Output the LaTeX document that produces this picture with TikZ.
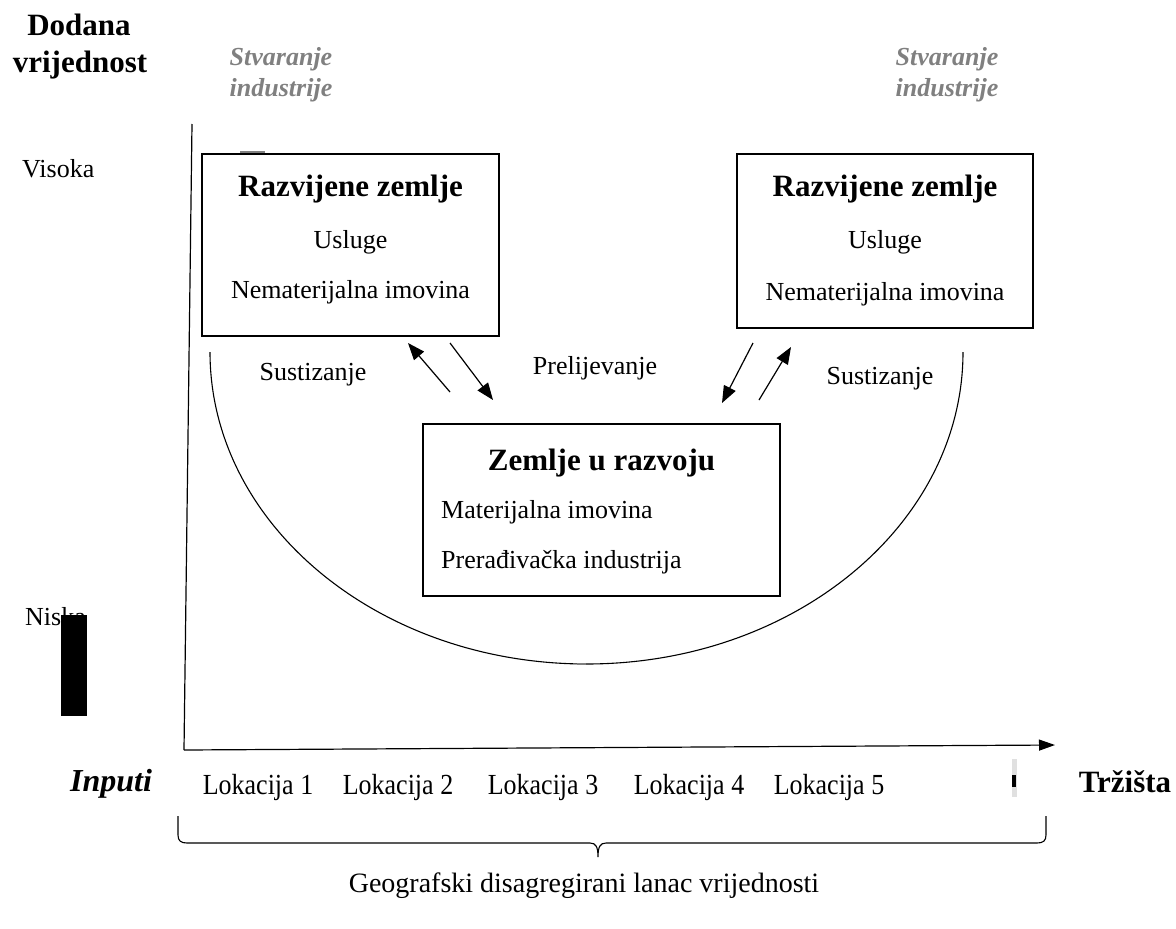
\documentclass[tikz,border=0pt]{standalone}
\usepackage{fontspec}
\setmainfont{Liberation Serif}
\usetikzlibrary{arrows.meta}
\definecolor{stvgray}{RGB}{128,128,128}
\newcommand{\tallloc}[1]{\scalebox{1}[1.12]{#1}}
\tikzset{
  box/.style={draw, line width=1.3pt, inner sep=0pt},
  reg/.style={font=\fontsize{26}{30}\selectfont, inner sep=0pt, anchor=base},
  head/.style={font=\fontsize{31}{35}\selectfont\bfseries, inner sep=0pt, anchor=base},
  stv/.style={font=\fontsize{26}{30}\selectfont\bfseries\itshape, text=stvgray, inner sep=0pt, anchor=base},
  conn/.style={line width=1.2pt, -{Triangle[length=17pt,width=13pt]}},
  axis/.style={line width=1.2pt},
}
\begin{document}
\begin{tikzpicture}[x=1pt,y=1pt]
\useasboundingbox (0,0) rectangle (1176,-929);
% title labels
\node[head] (dod) at (79,-35) {Dodana};
\node[head] (vri) at (80,-72) {vrijednost};
\node[stv] (s1a) at (281,-65) {Stvaranje};
\node[stv] (s1b) at (281,-96) {industrije};
\node[stv] (s2a) at (947,-65) {Stvaranje};
\node[stv] (s2b) at (947,-96) {industrije};
\node[reg, anchor=base west] (vis) at (22,-177) {Visoka};
\node[reg, anchor=base west] (nis) at (25,-625) {Niska};
\fill[black] (61,-615) rectangle (87,-716);
% axes
\coordinate (ytop) at (192,-124);
\coordinate (orig) at (184,-750);
\coordinate (xend) at (1055,-745);
\draw[axis] (ytop) -- (orig);
\draw[axis, -{Triangle[length=16pt,width=11pt]}] (orig) -- (xend);
% boxes
\node[box, minimum width=297pt, minimum height=182pt] (L) at (350.5,-245) {};
\node[box, minimum width=296pt, minimum height=174pt] (R) at (885,-241) {};
\node[box, minimum width=357pt, minimum height=172pt] (C) at (601.5,-510) {};
\draw[stvgray, line width=1.2pt] (240,-152) -- (265,-152);
% box texts
\node[head] (Lt) at (350.5,-196) {Razvijene zemlje};
\node[reg] (Lu) at (350.5,-248) {Usluge};
\node[reg] (Ln) at (350.5,-298) {Nematerijalna imovina};
\node[head] (Rt) at (885,-196) {Razvijene zemlje};
\node[reg] (Ru) at (885,-248) {Usluge};
\node[reg] (Rn) at (885,-300) {Nematerijalna imovina};
\node[head] (Ct) at (601.5,-470) {Zemlje u razvoju};
\node[reg, anchor=base west] (Cm) at (441,-518) {Materijalna imovina};
\node[reg, anchor=base west] (Cp) at (441,-568) {Prerađivačka industrija};
% U curve
\draw[line width=1.1pt] (210,-352) arc[start angle=180, end angle=360, x radius=376.5pt, y radius=312pt];
\draw[stvgray, line width=2pt] (577,-664) -- (586,-664);
% arrows
\coordinate (a1s) at (450,-392); \coordinate (a1e) at (408,-343);
\coordinate (a2s) at (450,-343); \coordinate (a2e) at (493,-400);
\coordinate (a3s) at (753,-343); \coordinate (a3e) at (722,-403);
\coordinate (a4s) at (759,-400); \coordinate (a4e) at (791,-347);
\draw[conn] (a1s) -- (a1e);
\draw[conn] (a2s) -- (a2e);
\draw[conn] (a3s) -- (a3e);
\draw[conn] (a4s) -- (a4e);
\node[reg] (sus1) at (313,-380) {Sustizanje};
\node[reg] (pre) at (595,-374) {Prelijevanje};
\node[reg] (sus2) at (880,-384) {Sustizanje};
% axis labels
\node[head, font=\fontsize{32}{36}\selectfont\bfseries\itshape] (inp) at (111,-791) {Inputi};
\node[head] (trz) at (1125,-792) {Tržišta};
\node[reg] (l1) at (258,-794) {\tallloc{Lokacija 1}};
\node[reg] (l2) at (398,-794) {\tallloc{Lokacija 2}};
\node[reg] (l3) at (543,-794) {\tallloc{Lokacija 3}};
\node[reg] (l4) at (689,-794) {\tallloc{Lokacija 4}};
\node[reg] (l5) at (829,-794) {\tallloc{Lokacija 5}};
\fill[black!12] (1012,-759) rectangle (1017,-797);
\fill[black] (1012,-775) rectangle (1016,-787);
% brace
\coordinate (bl) at (178,-816);
\coordinate (br) at (1046,-816);
\coordinate (bm) at (598,-857);
\draw[line width=1.1pt] (bl) -- (178,-835) .. controls (178,-841) and (181,-843) .. (187,-843)
  -- (590,-843) .. controls (596,-843) and (598,-847) .. (bm)
  .. controls (598,-847) and (600,-843) .. (606,-843)
  -- (1037,-843) .. controls (1043,-843) and (1046,-841) .. (1046,-835) -- (br);
\node[reg, font=\fontsize{28}{32}\selectfont] (geo) at (584,-892) {Geografski disagregirani lanac vrijednosti};
\end{tikzpicture}
\end{document}
